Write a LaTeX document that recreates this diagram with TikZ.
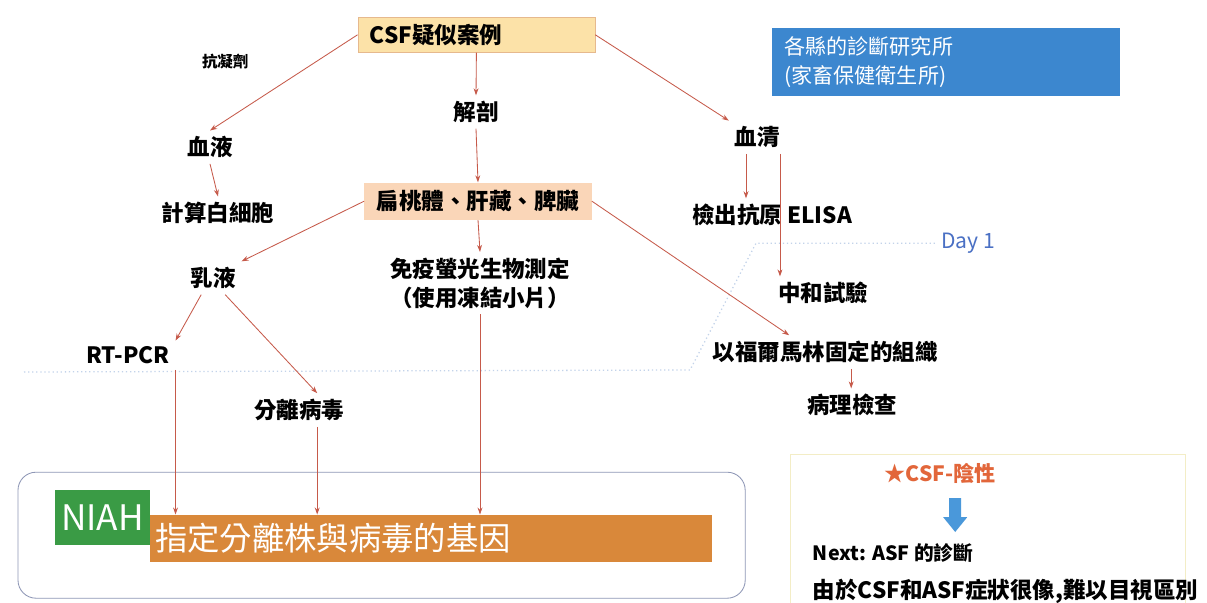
\documentclass[tikz,border=0pt]{standalone}
\usepackage{fontspec}
\setmainfont{Noto Sans CJK TC}
\usetikzlibrary{arrows.meta}
\definecolor{arrred}{HTML}{C65A4A}
\definecolor{csffill}{HTML}{FCE2A8}
\definecolor{csfline}{HTML}{E6B98E}
\definecolor{organfill}{HTML}{FAD6B8}
\definecolor{labblue}{HTML}{3C87CF}
\definecolor{niahgreen}{HTML}{3A9B45}
\definecolor{geneorange}{HTML}{D9883A}
\definecolor{framegray}{HTML}{8E97B6}
\definecolor{dayblue}{HTML}{4A70C4}
\definecolor{dotblue}{HTML}{C3D3EA}
\definecolor{negred}{HTML}{E2663A}
\definecolor{downblue}{HTML}{4A98DA}
\definecolor{noteframe}{HTML}{F3EDC6}

\begin{document}
\begin{tikzpicture}[
  lbl/.style={font=\fontsize{16}{20.5}\selectfont\bfseries, inner sep=4pt},
  arr/.style={-{Stealth[length=5pt,width=3.5pt]}, draw=arrred, line width=0.6pt}]
\useasboundingbox [fill=white] (0,0) rectangle (30.175,-15.075);

\node (day1) at (24.2,-6.08) [font=\fontsize{15}{18}\selectfont, text=dayblue] {Day 1};
\coordinate (dayA) at (0.6,-9.3);
\coordinate (dayB) at (17.25,-9.25);
\coordinate (dayC) at (18.9,-6.08);
\draw [dotted, draw=dotblue, line width=0.9pt] (dayA) -- (dayB) -- (dayC) -- (day1.west);

\node (csf) at (11.91,-0.87) [lbl, fill=csffill, draw=csfline, line width=0.4pt, inner xsep=0.3cm, text width=5.33cm, minimum height=0.88cm, align=left] {CSF疑似案例};
\node (kang) at (5.63,-1.53) [lbl, font=\fontsize{11}{13}\selectfont\bfseries] {抗凝劑};
\node (jiepo) at (11.9,-2.8) [lbl] {解剖};
\node (xueye) at (5.25,-3.68) [lbl] {血液};
\node (jisuan) at (5.45,-5.33) [lbl] {計算白細胞};
\node (xueqing) at (18.93,-3.43) [lbl] {血清};
\node (elisa) at (19.3,-5.38) [lbl] {檢出抗原 ELISA};
\node (organ) at (11.95,-5.03) [lbl, fill=organfill, minimum width=5.68cm, minimum height=0.93cm] {扁桃體、肝藏、脾臟};
\node (mianyi) at (12.0,-7.08) [lbl, align=center] {免疫螢光生物測定\\（使用凍結小片）};
\node (ruye) at (5.33,-6.95) [lbl] {乳液};
\node (rtpcr) at (3.2,-8.88) [lbl] {RT-PCR};
\node (fenli) at (7.48,-10.25) [lbl] {分離病毒};
\node (zhonghe) at (20.58,-7.33) [lbl] {中和試驗};
\node (formalin) at (20.63,-8.8) [lbl] {以福爾馬林固定的組織};
\node (bingli) at (21.3,-10.13) [lbl] {病理檢查};

\node (lab) at (23.66,-1.55) [fill=labblue, text=white, font=\fontsize{15}{21}\selectfont, inner xsep=0.3cm, text width=8.1cm, minimum height=1.7cm, align=left] {各縣的診斷研究所\\(家畜保健衛生所)};

\node (niahframe) at (9.54,-13.38) [draw=framegray, line width=0.6pt, rounded corners=0.45cm, minimum width=18.18cm, minimum height=3.15cm] {};
\node (gene) at (10.78,-13.46) [fill=geneorange, text=white, font=\fontsize{23}{26}\selectfont, inner xsep=0.12cm, text width=13.8cm, minimum height=1.18cm, align=left] {指定分離株與病毒的基因};
\node (niah) at (2.56,-12.94) [fill=niahgreen, text=white, font=\fontsize{25}{28}\selectfont, inner sep=0pt, minimum width=2.38cm, minimum height=1.38cm] {NIAH};

\node (noteframe) at (24.69,-13.3) [draw=noteframe, line width=0.6pt, minimum width=9.88cm, minimum height=3.9cm] {};
\node (neg) at (23.5,-11.83) [font=\fontsize{15}{18}\selectfont\bfseries, text=negred] {★CSF-陰性};
% blue block arrow
\fill [downblue] (23.73,-12.45) -- (24.03,-12.45) -- (24.03,-12.93) -- (24.18,-12.93)
  -- (23.88,-13.3) -- (23.58,-12.93) -- (23.73,-12.93) -- cycle;
\node (next) at (20.2,-13.83) [anchor=west, font=\fontsize{14}{17}\selectfont\bfseries] {Next: ASF 的診斷};
\node (reason) at (20.2,-14.78) [anchor=west, font=\fontsize{16}{18}\selectfont\bfseries] {由於CSF和ASF症狀很像,難以目視區別};

\draw [arr] (csf.west) -- (xueye.north);
\draw [arr] (csf.south) -- (jiepo.north);
\draw [arr] (csf.east) -- (xueqing.north west);
\draw [arr] (jiepo.south) -- (organ.north);
\draw [arr] (xueye.south) -- (jisuan.north);
\draw [arr] ([xshift=-0.28cm]xueqing.south) -- ([xshift=-0.28cm]xueqing.south |- elisa.north);
\draw [arr] ([xshift=-4pt]xueqing.south east) -- ([xshift=-4pt]xueqing.south east |- zhonghe.north);
\draw [arr] (organ.west) -- (ruye.north east);
\draw [arr] (organ.south) -- (mianyi.north);
\draw [arr] (organ.east) -- ([xshift=-0.9cm]formalin.north);
\draw [arr] ([xshift=-0.3cm]ruye.south) -- (rtpcr.north east);
\draw [arr] ([xshift=0.3cm]ruye.south) -- ([xshift=0.45cm]fenli.north);
\draw [arr] ([xshift=0.65cm]formalin.south) -- ([xshift=0.65cm]formalin.south |- bingli.north);
\draw [arr] (rtpcr.south east) -- (rtpcr.south east |- gene.north);
\draw [arr] ([xshift=0.45cm]fenli.south) -- ([xshift=0.45cm]fenli.south |- gene.north);
\draw [arr] (mianyi.south) -- (mianyi.south |- gene.north);
\end{tikzpicture}
\end{document}
